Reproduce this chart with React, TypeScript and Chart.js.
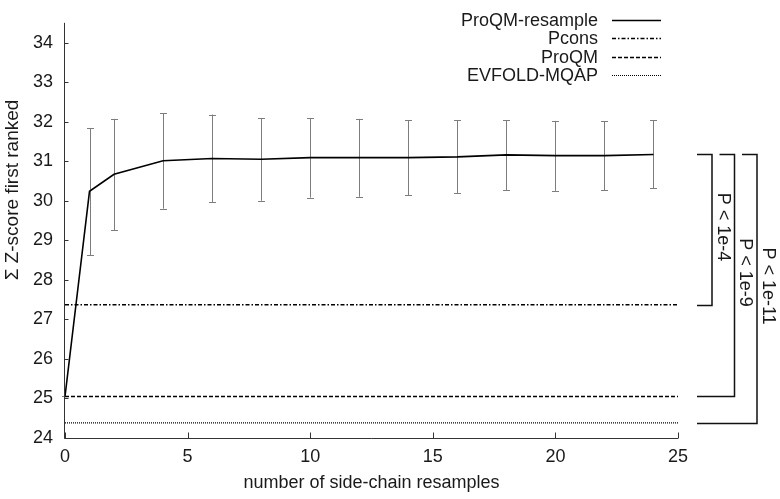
import React, { useEffect, useRef } from "react";
import { Chart, registerables } from "chart.js";

Chart.register(...registerables);

const resamples = [0, 1, 2, 4, 6, 8, 10, 12, 14, 16, 18, 20, 22, 24];
const resampleMean = [25.05, 30.24, 30.67, 31.01, 31.07, 31.05, 31.09, 31.09, 31.09, 31.11, 31.16, 31.14, 31.14, 31.17];
const resampleLow = [25.05, 28.62, 29.26, 29.8, 29.97, 30.0, 30.08, 30.1, 30.14, 30.19, 30.27, 30.25, 30.27, 30.31];
const resampleHigh = [25.05, 31.84, 32.07, 32.21, 32.18, 32.08, 32.09, 32.07, 32.03, 32.03, 32.04, 32.02, 32.01, 32.03];

const pconsValue = 27.37;
const proqmValue = 25.05;
const evfoldValue = 24.38;
const xRange = [0, 25];

const seriesNames = ["ProQM-resample", "Pcons", "ProQM", "EVFOLD-MQAP"];
const bracketTop = 31.17;
const bracketBottoms = [27.37, 25.05, 24.38];
const bracketLabels = ["P < 1e-4", "P < 1e-9", "P < 1e-11"];
const yTitle = "Σ Z-score first ranked";
const xTitle = "number of side-chain resamples";

const FONT = "'Liberation Sans', Arial, Helvetica, sans-serif";
const TXT = "#1a1a1a";
const FS = 18;

const errorBarPlugin = {
  id: "errorBars",
  beforeDatasetsDraw(chart: any) {
    const ctx = chart.ctx;
    const xs = chart.scales.x;
    const ys = chart.scales.y;
    ctx.save();
    ctx.strokeStyle = "#7d7d7d";
    ctx.lineWidth = 1;
    resamples.forEach((r, i) => {
      const px = Math.round(xs.getPixelForValue(r)) + 0.5;
      const lo = ys.getPixelForValue(resampleLow[i]);
      const hi = ys.getPixelForValue(resampleHigh[i]);
      ctx.beginPath();
      ctx.moveTo(px, lo);
      ctx.lineTo(px, hi);
      ctx.moveTo(px - 3.5, Math.round(lo) + 0.5);
      ctx.lineTo(px + 3.5, Math.round(lo) + 0.5);
      ctx.moveTo(px - 3.5, Math.round(hi) + 0.5);
      ctx.lineTo(px + 3.5, Math.round(hi) + 0.5);
      ctx.stroke();
    });
    ctx.restore();
  },
};

const axesPlugin = {
  id: "axesAndAnnotations",
  afterDraw(chart: any) {
    const ctx = chart.ctx;
    const xs = chart.scales.x;
    const ys = chart.scales.y;
    const ca = chart.chartArea;
    ctx.save();
    // axes
    ctx.strokeStyle = "#333";
    ctx.lineWidth = 1;
    const left = Math.round(ca.left) - 0.5;
    const bottom = Math.round(ca.bottom) + 0.5;
    ctx.beginPath();
    ctx.moveTo(left, ca.top);
    ctx.lineTo(left, bottom);
    ctx.lineTo(ca.right, bottom);
    ctx.stroke();
    ctx.beginPath();
    ys.ticks.forEach((t: any) => {
      const py = Math.round(ys.getPixelForValue(t.value)) + 0.5;
      ctx.moveTo(left, py);
      ctx.lineTo(left + 4, py);
    });
    xs.ticks.forEach((t: any) => {
      const px = Math.round(xs.getPixelForValue(t.value)) + 0.5;
      ctx.moveTo(px, bottom);
      ctx.lineTo(px, bottom - 6);
    });
    ctx.stroke();

    // y title
    ctx.save();
    ctx.translate(13, 190);
    ctx.rotate(-Math.PI / 2);
    ctx.font = `19px ${FONT}`;
    ctx.fillStyle = TXT;
    ctx.textAlign = "center";
    ctx.textBaseline = "middle";
    ctx.fillText(yTitle, 0, 0);
    ctx.restore();

    // legend
    const styles = chart.data.datasets;
    ctx.font = `${FS}px ${FONT}`;
    ctx.fillStyle = TXT;
    ctx.textAlign = "right";
    ctx.textBaseline = "middle";
    seriesNames.forEach((name, i) => {
      const y = 20 + i * 18.3;
      ctx.fillText(name, ca.right - 80, y + 1);
      const ds = styles[i];
      ctx.save();
      ctx.strokeStyle = ds.borderColor;
      ctx.lineWidth = ds.borderWidth;
      ctx.setLineDash(ds.borderDash || []);
      ctx.beginPath();
      ctx.moveTo(ca.right - 66, Math.round(y) + 0.5);
      ctx.lineTo(ca.right - 17, Math.round(y) + 0.5);
      ctx.stroke();
      ctx.restore();
    });

    // brackets
    const topY = Math.round(ys.getPixelForValue(bracketTop)) + 0.5;
    ctx.strokeStyle = "#111";
    ctx.lineWidth = 1.5;
    const startX = ca.right + 19;
    bracketBottoms.forEach((b, i) => {
      const vx = ca.right + 34 + i * 22.5;
      const tx0 = i === 0 ? startX : vx - 15;
      const by = Math.round(ys.getPixelForValue(b)) + 0.5;
      ctx.beginPath();
      ctx.moveTo(tx0, topY);
      ctx.lineTo(vx, topY);
      ctx.lineTo(vx, by);
      ctx.lineTo(startX, by);
      ctx.stroke();
      ctx.save();
      ctx.translate(vx + 10.5, (topY + by) / 2 - 3);
      ctx.rotate(Math.PI / 2);
      ctx.font = `${FS}px ${FONT}`;
      ctx.fillStyle = TXT;
      ctx.textAlign = "center";
      ctx.textBaseline = "middle";
      ctx.fillText(bracketLabels[i], 0, 0);
      ctx.restore();
    });
    ctx.restore();
  },
};

export default function App() {
  const canvasRef = useRef<HTMLCanvasElement | null>(null);

  useEffect(() => {
    if (!canvasRef.current) return;
    const flat = (v: number) => [
      { x: xRange[0], y: v },
      { x: xRange[1], y: v },
    ];
    const chart = new Chart(canvasRef.current, {
      type: "line",
      data: {
        datasets: [
          {
            label: seriesNames[0],
            data: resamples.map((r, i) => ({ x: r, y: resampleMean[i] })),
            borderColor: "#000",
            borderWidth: 1.6,
            pointRadius: 0,
            tension: 0,
          },
          {
            label: seriesNames[1],
            data: flat(pconsValue),
            borderColor: "#000",
            borderWidth: 1.3,
            borderDash: [4, 2, 1.5, 2],
            pointRadius: 0,
          },
          {
            label: seriesNames[2],
            data: flat(proqmValue),
            borderColor: "#000",
            borderWidth: 1.3,
            borderDash: [4, 2],
            pointRadius: 0,
          },
          {
            label: seriesNames[3],
            data: flat(evfoldValue),
            borderColor: "#000",
            borderWidth: 1.2,
            borderDash: [1, 1],
            pointRadius: 0,
          },
        ] as any,
      },
      options: {
        animation: false,
        responsive: false,
        layout: { padding: { top: 4, right: 102, left: 0, bottom: 0 } },
        plugins: { legend: { display: false }, tooltip: { enabled: false } },
        scales: {
          x: {
            type: "linear",
            min: 0,
            max: 25,
            grid: { display: false, drawTicks: false },
            border: { display: false },
            ticks: {
              stepSize: 5,
              includeBounds: false,
              padding: 8,
              color: TXT,
              font: { family: FONT, size: FS },
              maxRotation: 0,
            },
            title: {
              display: true,
              text: xTitle,
              color: TXT,
              font: { family: FONT, size: FS },
              padding: { top: 0, bottom: 5 },
            },
            afterFit(scale: any) {
              scale.height = 61;
            },
          },
          y: {
            type: "linear",
            min: 24,
            max: 34.5,
            grid: { display: false, drawTicks: false },
            border: { display: false },
            ticks: {
              stepSize: 1,
              includeBounds: false,
              padding: 12,
              color: TXT,
              font: { family: FONT, size: FS },
            },
            title: { display: false },
            afterFit(scale: any) {
              scale.width = 65;
            },
          },
        },
      } as any,
      plugins: [errorBarPlugin, axesPlugin],
    });
    return () => chart.destroy();
  }, []);

  return (
    <div style={{ position: "absolute", left: 0, top: 0, width: 780, height: 499, background: "#fff" }}>
      <canvas ref={canvasRef} width={780} height={499} style={{ display: "block" }} />
    </div>
  );
}
